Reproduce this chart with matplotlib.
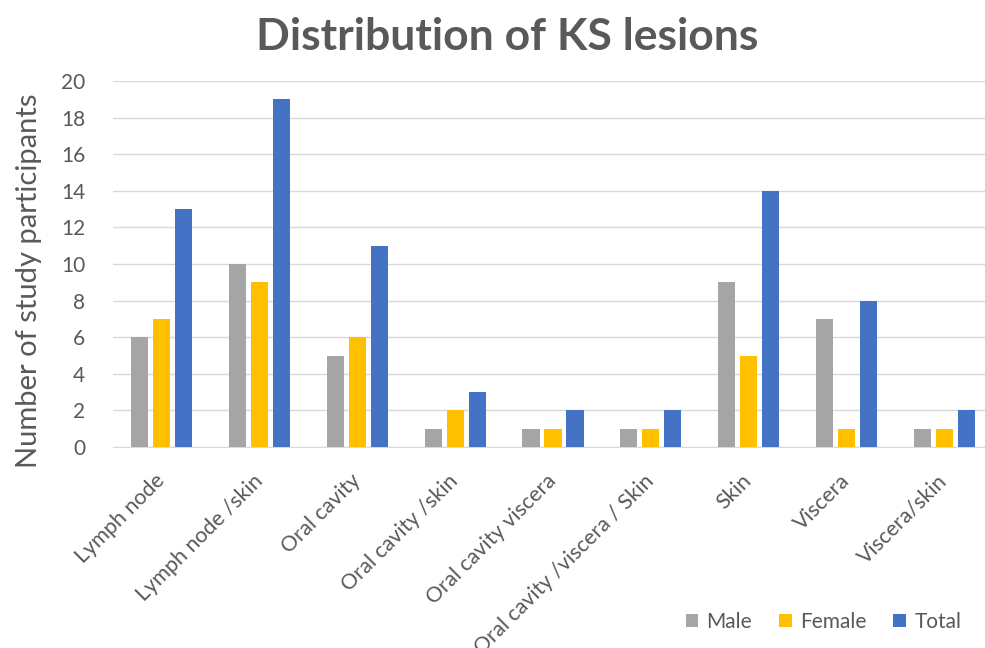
import numpy as np
import matplotlib.pyplot as plt

plt.rcParams['font.family'] = ['Lato', 'DejaVu Sans']

# data
categories = ['Lymph node', 'Lymph node /skin', 'Oral cavity', 'Oral cavity /skin',
              'Oral cavity viscera', 'Oral cavity /viscera / Skin', 'Skin', 'Viscera',
              'Viscera/skin']
male = [6, 10, 5, 1, 1, 1, 9, 7, 1]
female = [7, 9, 6, 2, 1, 1, 5, 1, 1]
total = [13, 19, 11, 3, 2, 2, 14, 8, 2]

txt = '#595959'
x = np.arange(len(categories))
w = 0.175
off = 0.225

fig = plt.figure(figsize=(9.85, 6.48), dpi=100)
ax = fig.add_axes([113 / 985, 1 - 447 / 648, 880 / 985, 366 / 648])

ax.bar(x - off, male, w, color='#A5A5A5', label='Male', zorder=3)
ax.bar(x, female, w, color='#FFC000', label='Female', zorder=3)
ax.bar(x + off, total, w, color='#4472C4', label='Total', zorder=3)

ax.set_xlim(-0.5, len(categories) - 0.5)
ax.set_ylim(0, 20)
ax.set_yticks(range(0, 21, 2))
ax.yaxis.grid(True, color='#D9D9D9', linewidth=1, zorder=0)
for s in ['top', 'right', 'left']:
    ax.spines[s].set_visible(False)
ax.spines['bottom'].set_color('#D9D9D9')
ax.tick_params(axis='both', length=0, labelsize=15, colors=txt)
ax.tick_params(axis='y', pad=20)
ax.set_xticks(x)
ax.set_xticklabels(categories, rotation=45, ha='right', va='center',
                   rotation_mode='anchor', fontsize=15.5)
ax.tick_params(axis='x', pad=22)

ax.set_ylabel('Number of study participants', fontsize=21, color=txt)
ax.yaxis.set_label_coords(-0.081, 0.454)
fig.text(0.515, 0.943, 'Distribution of KS lesions', fontsize=32, fontweight='bold',
         color=txt, ha='center', va='center')

leg = fig.legend(loc='center', bbox_to_anchor=(0.836, 0.04), ncol=3, frameon=False,
                 fontsize=15, handlelength=0.6, handleheight=0.6, handletextpad=0.4,
                 columnspacing=1.3, labelcolor=txt)

fig.savefig('out.png', dpi=100)
